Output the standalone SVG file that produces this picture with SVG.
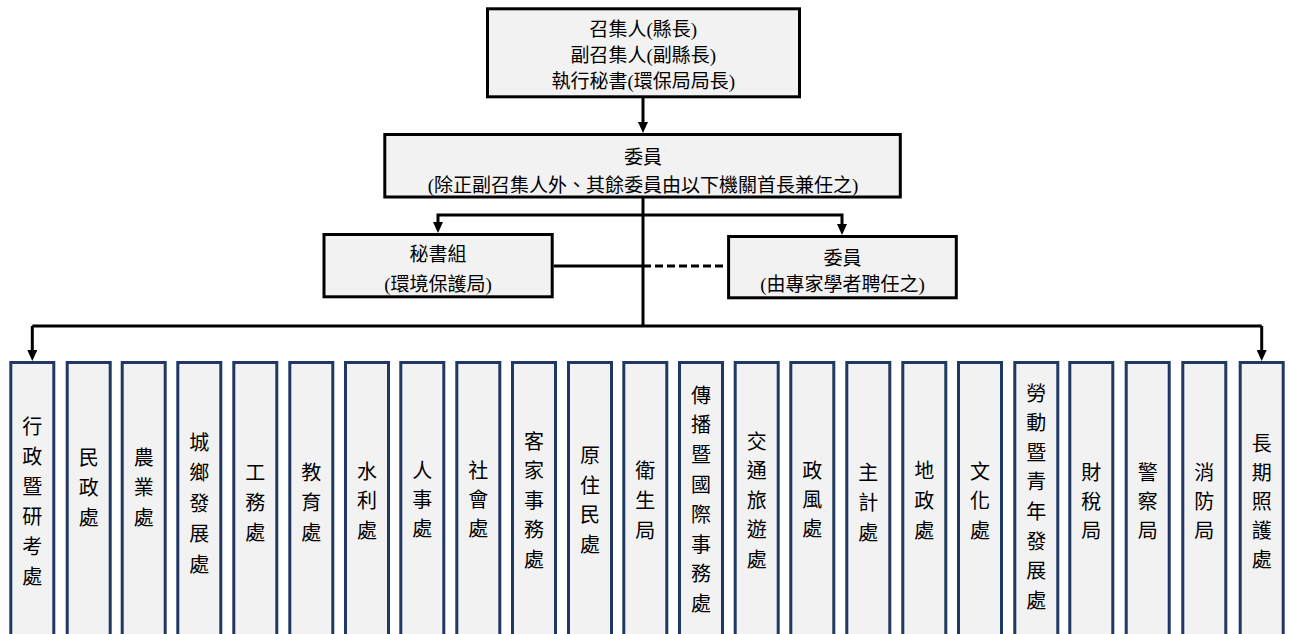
<svg xmlns="http://www.w3.org/2000/svg" width="1289" height="634" viewBox="0 0 1289 634">
<style>
.box{fill:#f2f2f2;stroke:#000;stroke-width:3}
.col{fill:#f2f2f2;stroke:#203864;stroke-width:3}
.h{font-family:'Liberation Serif','Noto Sans CJK TC',serif;font-size:19px;text-anchor:middle;fill:#000}
.v{font-family:'Noto Sans CJK TC',sans-serif;font-size:20px;text-anchor:middle;fill:#000}
.ln{fill:none;stroke:#000;stroke-width:3}
.dash{stroke-dasharray:8 4}
</style>
<defs>
<marker id="ah" markerUnits="userSpaceOnUse" markerWidth="11" markerHeight="10" viewBox="0 0 11 10" refX="3" refY="5" orient="auto">
<path d="M0,0 L11,5 L0,10 z" fill="#000"/>
</marker>
</defs>
<rect width="1289" height="634" fill="#fff"/>

<g id="connectors">
<path class="ln" d="M643,98 V125" marker-end="url(#ah)"/>
<path class="ln" d="M643,198 V326"/>
<path class="ln" d="M32.3,326 H1261.7"/>
<path class="ln" d="M32.3,326 V353" marker-end="url(#ah)"/>
<path class="ln" d="M1261.7,326 V353" marker-end="url(#ah)"/>
<path class="ln" d="M643,215 H438 V225" marker-end="url(#ah)"/>
<path class="ln" d="M643,215 H842 V227" marker-end="url(#ah)"/>
<path class="ln" d="M553.7,266 H643"/>
<path class="ln dash" d="M643,266 H727"/>
</g>

<g id="convener">
<rect class="box" x="487.5" y="8.8" width="312" height="88"/>
<text class="h" x="643.3" y="36">召集人(縣長)</text>
<text class="h" x="643.3" y="62">副召集人(副縣長)</text>
<text class="h" x="643.3" y="88">執行秘書(環保局局長)</text>
</g>

<g id="members">
<rect class="box" x="384.8" y="134.5" width="515.5" height="62.5"/>
<text class="h" x="643" y="164">委員</text>
<text class="h" x="643" y="192">(除正副召集人外、其餘委員由以下機關首長兼任之)</text>
</g>

<g id="secretariat">
<rect class="box" x="324" y="234.5" width="228.2" height="62.3"/>
<text class="h" x="438" y="260.5">秘書組</text>
<text class="h" x="438" y="290.5">(環境保護局)</text>
</g>

<g id="experts">
<rect class="box" x="728.6" y="236.5" width="227.7" height="61.3"/>
<text class="h" x="842.5" y="265">委員</text>
<text class="h" x="842.5" y="291">(由專家學者聘任之)</text>
</g>

<g id="d1"><rect class="col" x="10.8" y="362.5" width="43" height="280"/>
<text class="v" x="32.3" y="433.5">行<tspan x="32.3" dy="30">政</tspan><tspan x="32.3" dy="30">暨</tspan><tspan x="32.3" dy="30">研</tspan><tspan x="32.3" dy="30">考</tspan><tspan x="32.3" dy="30">處</tspan></text></g>
<g id="d2"><rect class="col" x="67.2" y="362.5" width="43" height="280"/>
<text class="v" x="88.7" y="464.5">民<tspan x="88.7" dy="30">政</tspan><tspan x="88.7" dy="30">處</tspan></text></g>
<g id="d3"><rect class="col" x="122.2" y="362.5" width="43" height="280"/>
<text class="v" x="143.7" y="464.5">農<tspan x="143.7" dy="30">業</tspan><tspan x="143.7" dy="30">處</tspan></text></g>
<g id="d4"><rect class="col" x="177.8" y="362.5" width="43" height="280"/>
<text class="v" x="199.3" y="449.5">城<tspan x="199.3" dy="30.5">鄉</tspan><tspan x="199.3" dy="30.5">發</tspan><tspan x="199.3" dy="30.5">展</tspan><tspan x="199.3" dy="30.5">處</tspan></text></g>
<g id="d5"><rect class="col" x="233.8" y="362.5" width="43" height="280"/>
<text class="v" x="255.3" y="479.5">工<tspan x="255.3" dy="30">務</tspan><tspan x="255.3" dy="30">處</tspan></text></g>
<g id="d6"><rect class="col" x="289.8" y="362.5" width="43" height="280"/>
<text class="v" x="311.3" y="479.5">教<tspan x="311.3" dy="30">育</tspan><tspan x="311.3" dy="30">處</tspan></text></g>
<g id="d7"><rect class="col" x="345.5" y="362.5" width="43" height="280"/>
<text class="v" x="367" y="478.5">水<tspan x="367" dy="29.5">利</tspan><tspan x="367" dy="29.5">處</tspan></text></g>
<g id="d8"><rect class="col" x="400.8" y="362.5" width="43" height="280"/>
<text class="v" x="422.3" y="477.5">人<tspan x="422.3" dy="29">事</tspan><tspan x="422.3" dy="29">處</tspan></text></g>
<g id="d9"><rect class="col" x="456.8" y="362.5" width="43" height="280"/>
<text class="v" x="478.3" y="477.5">社<tspan x="478.3" dy="29">會</tspan><tspan x="478.3" dy="29">處</tspan></text></g>
<g id="d10"><rect class="col" x="512.5" y="362.5" width="43" height="280"/>
<text class="v" x="534" y="448.5">客<tspan x="534" dy="29.5">家</tspan><tspan x="534" dy="29.5">事</tspan><tspan x="534" dy="29.5">務</tspan><tspan x="534" dy="29.5">處</tspan></text></g>
<g id="d11"><rect class="col" x="568.5" y="362.5" width="43" height="280"/>
<text class="v" x="590" y="463">原<tspan x="590" dy="29.5">住</tspan><tspan x="590" dy="29.5">民</tspan><tspan x="590" dy="29.5">處</tspan></text></g>
<g id="d12"><rect class="col" x="623.8" y="362.5" width="43" height="280"/>
<text class="v" x="645.3" y="477.5">衛<tspan x="645.3" dy="30">生</tspan><tspan x="645.3" dy="30">局</tspan></text></g>
<g id="d13"><rect class="col" x="679.5" y="362.5" width="43" height="280"/>
<text class="v" x="701" y="402.5">傳<tspan x="701" dy="29.8">播</tspan><tspan x="701" dy="29.8">暨</tspan><tspan x="701" dy="29.8">國</tspan><tspan x="701" dy="29.8">際</tspan><tspan x="701" dy="29.8">事</tspan><tspan x="701" dy="29.8">務</tspan><tspan x="701" dy="29.8">處</tspan></text></g>
<g id="d14"><rect class="col" x="735.2" y="362.5" width="43" height="280"/>
<text class="v" x="756.7" y="448.5">交<tspan x="756.7" dy="29.5">通</tspan><tspan x="756.7" dy="29.5">旅</tspan><tspan x="756.7" dy="29.5">遊</tspan><tspan x="756.7" dy="29.5">處</tspan></text></g>
<g id="d15"><rect class="col" x="790.8" y="362.5" width="43" height="280"/>
<text class="v" x="812.3" y="477.5">政<tspan x="812.3" dy="29">風</tspan><tspan x="812.3" dy="29">處</tspan></text></g>
<g id="d16"><rect class="col" x="846.8" y="362.5" width="43" height="280"/>
<text class="v" x="868.3" y="479.5">主<tspan x="868.3" dy="30">計</tspan><tspan x="868.3" dy="30">處</tspan></text></g>
<g id="d17"><rect class="col" x="902.8" y="362.5" width="43" height="280"/>
<text class="v" x="924.3" y="477.5">地<tspan x="924.3" dy="30">政</tspan><tspan x="924.3" dy="30">處</tspan></text></g>
<g id="d18"><rect class="col" x="958.5" y="362.5" width="43" height="280"/>
<text class="v" x="980" y="478.5">文<tspan x="980" dy="29.5">化</tspan><tspan x="980" dy="29.5">處</tspan></text></g>
<g id="d19"><rect class="col" x="1014.8" y="362.5" width="43" height="280"/>
<text class="v" x="1036.3" y="400.5">勞<tspan x="1036.3" dy="29.6">動</tspan><tspan x="1036.3" dy="29.6">暨</tspan><tspan x="1036.3" dy="29.6">青</tspan><tspan x="1036.3" dy="29.6">年</tspan><tspan x="1036.3" dy="29.6">發</tspan><tspan x="1036.3" dy="29.6">展</tspan><tspan x="1036.3" dy="29.6">處</tspan></text></g>
<g id="d20"><rect class="col" x="1069.8" y="362.5" width="43" height="280"/>
<text class="v" x="1091.3" y="479.5">財<tspan x="1091.3" dy="29">稅</tspan><tspan x="1091.3" dy="29">局</tspan></text></g>
<g id="d21"><rect class="col" x="1126.2" y="362.5" width="43" height="280"/>
<text class="v" x="1147.7" y="479.5">警<tspan x="1147.7" dy="29">察</tspan><tspan x="1147.7" dy="29">局</tspan></text></g>
<g id="d22"><rect class="col" x="1182.8" y="362.5" width="43" height="280"/>
<text class="v" x="1204.3" y="479.5">消<tspan x="1204.3" dy="29">防</tspan><tspan x="1204.3" dy="29">局</tspan></text></g>
<g id="d23"><rect class="col" x="1240.2" y="362.5" width="43" height="280"/>
<text class="v" x="1261.7" y="450.5">長<tspan x="1261.7" dy="29">期</tspan><tspan x="1261.7" dy="29">照</tspan><tspan x="1261.7" dy="29">護</tspan><tspan x="1261.7" dy="29">處</tspan></text></g>
</svg>
